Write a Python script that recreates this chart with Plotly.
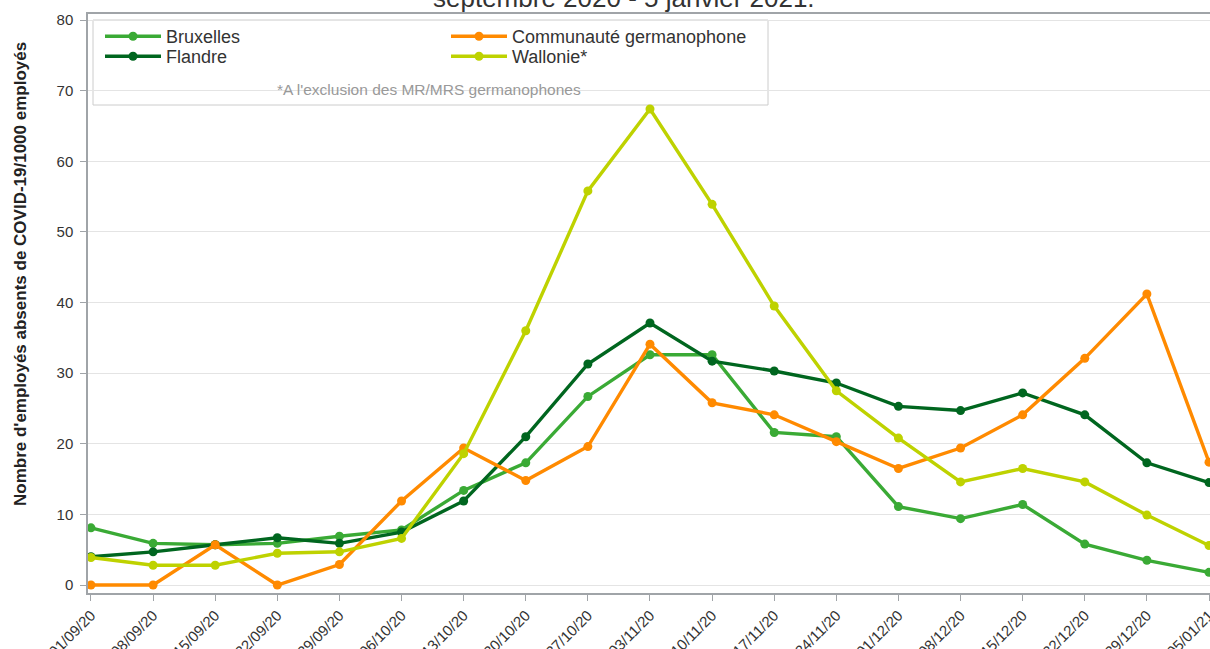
import plotly.graph_objects as go

dates = ["01/09/20", "08/09/20", "15/09/20", "22/09/20", "29/09/20", "06/10/20",
         "13/10/20", "20/10/20", "27/10/20", "03/11/20", "10/11/20", "17/11/20",
         "24/11/20", "01/12/20", "08/12/20", "15/12/20", "22/12/20", "29/12/20", "05/01/21"]

bruxelles = [8.1, 5.9, 5.7, 5.9, 6.9, 7.8, 13.4, 17.3, 26.7, 32.6, 32.6, 21.6,
             21.0, 11.1, 9.4, 11.4, 5.8, 3.5, 1.8]
flandre = [4.0, 4.7, 5.7, 6.7, 5.9, 7.5, 11.9, 21.0, 31.3, 37.1, 31.7, 30.3,
           28.6, 25.3, 24.7, 27.2, 24.1, 17.3, 14.5]
germanophone = [0.0, 0.0, 5.7, 0.0, 2.9, 11.9, 19.4, 14.8, 19.6, 34.1, 25.8, 24.1,
                20.3, 16.5, 19.4, 24.1, 32.1, 41.2, 17.4]
wallonie = [3.9, 2.8, 2.8, 4.5, 4.7, 6.6, 18.6, 36.0, 55.8, 67.4, 53.9, 39.5,
            27.5, 20.8, 14.6, 16.5, 14.6, 9.9, 5.6]

names = ["Bruxelles", "Flandre", "Communauté germanophone", "Wallonie*"]
values = [bruxelles, flandre, germanophone, wallonie]
colors = ["#3aaa35", "#00661f", "#ff8a00", "#bed200"]

title_text = "septembre 2020 - 5 janvier 2021."
y_title = "Nombre d'employés absents de COVID-19/1000 employés"
footnote = "*A l'exclusion des MR/MRS germanophones"

FONT = "Liberation Sans, Arial, sans-serif"

L, R, T, B = 88, 0, 14, 56
W, H = 1210, 649
pw, ph = W - L - R, H - T - B


def px(xp):
    return (xp - L) / pw


def py(yp):
    return (H - B - yp) / ph


# legend anchor pixels (left, top) for each series
legend_pos = [(100, 18.0), (100, 38.0), (446, 18.0), (446, 38.0)]
legend_ids = ["legend", "legend2", "legend3", "legend4"]

fig = go.Figure()
for name, vals, color, lg in zip(names, values, colors, legend_ids):
    fig.add_trace(go.Scatter(
        x=dates, y=vals, name=name, mode="lines+markers",
        line=dict(color=color, width=3.4),
        marker=dict(color=color, size=9),
        legend=lg, cliponaxis=False,
    ))

legend_layout = {}
for lg, (lx, ly) in zip(legend_ids, legend_pos):
    legend_layout[lg] = dict(
        x=px(lx), y=py(ly), xanchor="left", yanchor="top",
        orientation="v", bgcolor="rgba(0,0,0,0)", borderwidth=0,
        font=dict(size=18, color="#333333", family=FONT), itemwidth=56,
    )

fig.update_layout(
    width=W, height=H,
    margin=dict(l=L, r=R, t=T, b=B, pad=0, autoexpand=False),
    paper_bgcolor="white", plot_bgcolor="white",
    font=dict(family=FONT, color="#333333"),
    showlegend=True,
    xaxis=dict(
        type="category", range=[-0.048, 18.016], automargin=False,
        showgrid=False, showline=True, linecolor="#a0a4a8", linewidth=1.5,
        mirror=True, ticks="outside", ticklen=6, tickcolor="#a0a4a8",
        tickangle=-45, tickfont=dict(size=15, color="#333333"),
        zeroline=False,
    ),
    yaxis=dict(
        range=[-1.13, 80.85], tickvals=[0, 10, 20, 30, 40, 50, 60, 70, 80],
        automargin=False,
        showgrid=True, gridcolor="#e4e4e4", gridwidth=1,
        showline=True, linecolor="#a0a4a8", linewidth=1.5, mirror=False,
        ticks="outside", ticklen=6, tickcolor="#a0a4a8",
        tickfont=dict(size=15, color="#333333"), ticklabelstandoff=4,
        zeroline=False,
    ),
    shapes=[dict(
        type="rect", xref="paper", yref="paper",
        x0=px(93), x1=px(768), y0=py(105), y1=py(20),
        line=dict(color="#cccccc", width=1), fillcolor="white", layer="between",
    )],
    annotations=[
        dict(text=title_text, xref="paper", yref="paper", x=px(624), y=py(-2),
             xanchor="center", yanchor="middle", showarrow=False,
             font=dict(size=26, color="#333333", family=FONT)),
        dict(text="<b>" + y_title + "</b>", xref="paper", yref="paper",
             x=px(20), y=py(274), xanchor="center", yanchor="middle",
             textangle=-90, showarrow=False,
             font=dict(size=17, color="#222222", family=FONT)),
        dict(text=footnote, xref="paper", yref="paper", x=px(429), y=py(89),
             xanchor="center", yanchor="middle", showarrow=False,
             font=dict(size=15.5, color="#999999", family=FONT)),
    ],
    **legend_layout,
)

fig.write_html(
    "out.html",
    config={"displayModeBar": False},
    post_script="document.body.style.margin='0';document.body.style.overflow='hidden';",
)
